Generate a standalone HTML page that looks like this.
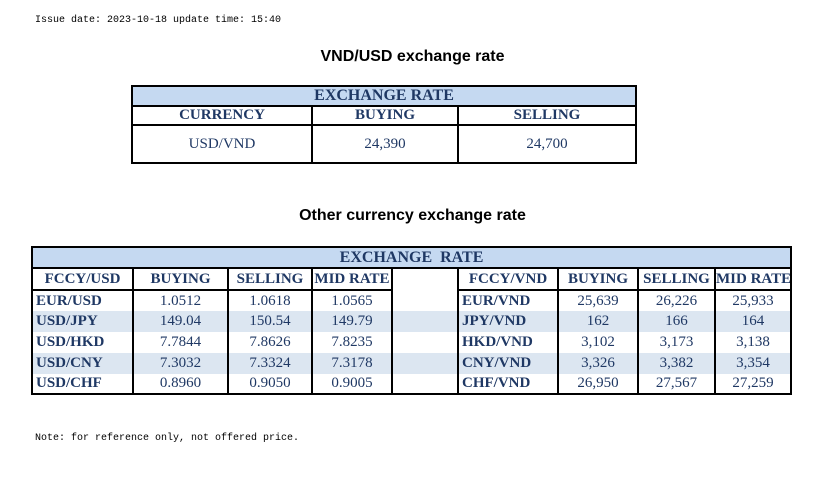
<!DOCTYPE html>
<html><head><meta charset="utf-8"><style>
body{margin:0;width:825px;height:484px;background:#fff;position:relative;overflow:hidden;font-family:"Liberation Serif",serif;}
.mono{position:absolute;font-family:"Liberation Mono",monospace;font-size:10px;color:#000;}
.title{position:absolute;font-family:"Liberation Sans",sans-serif;font-weight:bold;font-size:16px;color:#000;width:825px;text-align:center;}
table{position:absolute;border-collapse:collapse;table-layout:fixed;color:#1f3864;}
td{border:2px solid #000;padding:0;text-align:center;font-size:15px;overflow:hidden;white-space:nowrap;}
.h{background:#c5d9f1;font-weight:bold;font-size:16px;}
.b{font-weight:bold;}
.l{text-align:left;padding-left:3px;font-weight:bold;}
.s td{background:#dce6f1;}
.t2 td{border-top:none;border-bottom:none;}
.t2 tr.hd td{border:2px solid #000;}
.t2 tr.last td{border-bottom:2px solid #000;}
</style></head><body>
<div class="mono" style="left:35px;top:15px;">Issue date: 2023-10-18 update time: 15:40</div>
<div class="title" style="left:0;top:48px;">VND/USD exchange rate</div>
<table style="left:131px;top:85px;width:504px;">
<colgroup><col style="width:180px"><col style="width:146px"><col style="width:178px"></colgroup>
<tr style="height:16px"><td class="h" colspan="3">EXCHANGE RATE</td></tr>
<tr style="height:19px"><td class="b">CURRENCY</td><td class="b">BUYING</td><td class="b">SELLING</td></tr>
<tr style="height:38px"><td>USD/VND</td><td>24,390</td><td>24,700</td></tr>
</table>
<div class="title" style="left:0;top:207px;">Other currency exchange rate</div>
<table class="t2" style="left:31px;top:246px;width:759px;">
<colgroup><col style="width:101px"><col style="width:95px"><col style="width:84px"><col style="width:80px"><col style="width:66px"><col style="width:100px"><col style="width:80px"><col style="width:77px"><col style="width:76px"></colgroup>
<tr class="hd" style="height:21px"><td class="h" colspan="9">EXCHANGE&nbsp; RATE</td></tr>
<tr class="hd" style="height:22px"><td class="b">FCCY/USD</td><td class="b">BUYING</td><td class="b">SELLING</td><td class="b">MID RATE</td><td style="border-top:none;border-bottom:none"></td><td class="b">FCCY/VND</td><td class="b">BUYING</td><td class="b">SELLING</td><td class="b">MID RATE</td></tr>
<tr style="height:21px"><td class="l">EUR/USD</td><td>1.0512</td><td>1.0618</td><td>1.0565</td><td></td><td class="l">EUR/VND</td><td>25,639</td><td>26,226</td><td>25,933</td></tr>
<tr class="s" style="height:21px"><td class="l">USD/JPY</td><td>149.04</td><td>150.54</td><td>149.79</td><td></td><td class="l">JPY/VND</td><td>162</td><td>166</td><td>164</td></tr>
<tr style="height:21px"><td class="l">USD/HKD</td><td>7.7844</td><td>7.8626</td><td>7.8235</td><td></td><td class="l">HKD/VND</td><td>3,102</td><td>3,173</td><td>3,138</td></tr>
<tr class="s" style="height:21px"><td class="l">USD/CNY</td><td>7.3032</td><td>7.3324</td><td>7.3178</td><td></td><td class="l">CNY/VND</td><td>3,326</td><td>3,382</td><td>3,354</td></tr>
<tr class="last" style="height:20px"><td class="l">USD/CHF</td><td>0.8960</td><td>0.9050</td><td>0.9005</td><td></td><td class="l">CHF/VND</td><td>26,950</td><td>27,567</td><td>27,259</td></tr>
</table>
<div class="mono" style="left:35px;top:433px;">Note: for reference only, not offered price.</div>
</body></html>
